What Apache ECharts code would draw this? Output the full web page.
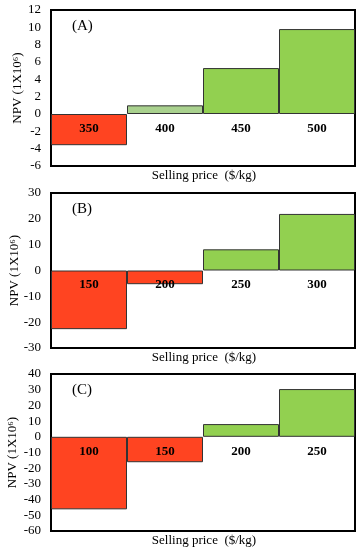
<!DOCTYPE html>
<html><head><meta charset="utf-8">
<script src="https://cdn.jsdelivr.net/npm/echarts@6/dist/echarts.min.js"></script>
<style>html,body{margin:0;padding:0;background:#fff}#c{width:359px;height:550px}</style>
</head><body><div id="c"></div>
<script>
var catsA = ['350','400','450','500'];
var valsA = [-3.6, 1.0, 5.3, 9.8];
var catsB = ['150','200','250','300'];
var valsB = [-22.7, -5.3, 8.2, 21.9];
var catsC = ['100','150','200','250'];
var valsC = [-46.2, -16.2, 8.1, 30.4];
var yTicksA = {min:-6, max:12, interval:2};
var yTicksB = {min:-30, max:30, interval:10};
var yTicksC = {min:-60, max:40, interval:10};
var panelLabels = ['(A)','(B)','(C)'];
var xTitle = 'Selling price  ($/kg)';
var yTitle = 'NPV (1X10\u2076)';

var RED = '#FF4421', GREEN = '#92D050', LIGHT = '#A9D18E';
var FONT = '"Liberation Serif","Times New Roman",serif';
var grids = [
  {left:51, right:4, top:10, height:156},
  {left:51, right:4, top:193, height:155},
  {left:51, right:4, top:374, height:157}
];
var nameX = [18, 15, 13];
var cats = [catsA, catsB, catsC];
var vals = [valsA, valsB, valsC];
var yt = [yTicksA, yTicksB, yTicksC];
var lightIdx = [1, -1, -1];

var option = {grid:[], xAxis:[], yAxis:[], series:[], graphic:[], animation:false};
for (var i=0;i<3;i++){
  option.grid.push(Object.assign({show:true, borderColor:'#000', borderWidth:2, backgroundColor:'transparent',
    containLabel:false, outerBoundsMode:'none'}, grids[i]));
  option.xAxis.push({type:'category', gridIndex:i, data:cats[i],
    axisLine:{show:false}, axisTick:{show:false}, axisLabel:{show:false}, splitLine:{show:false}
  });
  option.yAxis.push({type:'value', gridIndex:i, min:yt[i].min, max:yt[i].max, interval:yt[i].interval,
    splitLine:{show:false}, axisLine:{show:false}, axisTick:{show:false},
    axisLabel:{color:'#000', fontFamily:FONT, fontSize:13, margin:10}
  });
  option.series.push({type:'bar', xAxisIndex:i, yAxisIndex:i, barCategoryGap:'0%', z:2,
    data: vals[i].map(function(v, k){
      var c = v < 0 ? RED : (k === this.li ? LIGHT : GREEN);
      return {value:v, itemStyle:{color:c, borderColor:'#333', borderWidth:1},
        label:{show:true, position: v < 0 ? 'insideTop' : 'bottom', distance:8,
          formatter:'{b}', color:'#000', fontFamily:FONT, fontWeight:'bold', fontSize:13}};
    }, {li:lightIdx[i]})
  });
  var g = grids[i];
  option.graphic.push({type:'text', left:72, top:g.top+9, z:20,
    style:{text:panelLabels[i], font:'15px '+FONT, fill:'#000'}});
  option.graphic.push({type:'text', x:204, y:g.top+g.height+10, z:20,
    style:{text:xTitle, font:'13px '+FONT, fill:'#000', textAlign:'center', textVerticalAlign:'middle'}});
  option.graphic.push({type:'text', x:nameX[i], y:g.top+g.height/2, rotation:Math.PI/2, z:20,
    style:{text:yTitle, font:'13px '+FONT, fill:'#000', textAlign:'center', textVerticalAlign:'middle'}});
}
var chart = echarts.init(document.getElementById('c'), null, {renderer:'canvas'});
chart.setOption(option);
</script></body></html>
